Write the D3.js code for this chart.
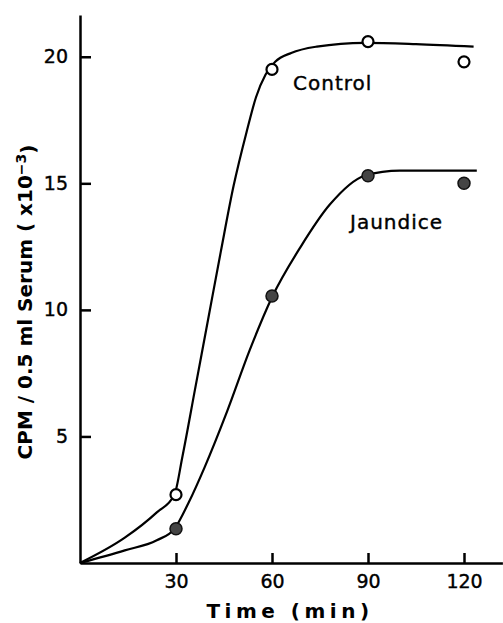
<!DOCTYPE html>
<html lang="en">
<head>
  <meta charset="utf-8"/>
  <script src="https://d3js.org/d3.v7.min.js"></script>
  <style>
    body { margin: 0; background: #fff; }
    .axis path, .axis line { stroke: #000; stroke-width: 2.5px; }
    .axis text { font: 19px "DejaVu Sans", sans-serif; fill: #000; stroke: #000; stroke-width: 0.4px; }
    .curve { fill: none; stroke: #000; stroke-width: 2.2px; }
    .label { font-family: "DejaVu Sans", sans-serif; fill: #000; }
    .series { stroke: #000; stroke-width: 0.4px; }
  </style>
</head>
<body>
  <div id="chart"></div>
  <script>
    // sampled times and measured values (x10^-3 CPM)
    const times = [30, 60, 90, 120];
    const controlValues = [2.7, 19.5, 20.6, 19.8];
    const jaundiceValues = [1.35, 10.55, 15.3, 15.0];

    // hand-drawn fitted curves
    const controlCurveT = [0, 14, 24, 29.5, 32, 36, 40, 44, 48, 52, 55, 58, 61, 66, 74, 89, 105, 123];
    const controlCurveV = [0, 1.0, 2.0, 2.7, 4.2, 6.9, 9.6, 12.3, 14.9, 17.0, 18.4, 19.3, 19.8, 20.15, 20.4, 20.55, 20.5, 20.4];
    const jaundiceCurveT = [0, 14, 24, 29.5, 34, 39, 46, 53, 60, 69, 78, 89, 100, 124];
    const jaundiceCurveV = [0, 0.5, 0.9, 1.35, 2.4, 3.8, 6.0, 8.4, 10.5, 12.5, 14.15, 15.3, 15.5, 15.5];

    const xTicks = [30, 60, 90, 120];
    const yTicks = [5, 10, 15, 20];

    const width = 503, height = 623;
    const svg = d3.select("#chart").append("svg")
      .attr("width", width)
      .attr("height", height);

    const x = d3.scaleLinear().domain([0, 132]).range([80, 502.4]);
    const y = d3.scaleLinear().domain([0, 21.65]).range([563, 15]);

    // axes, ticks pointing inwards
    svg.append("g")
      .attr("class", "axis")
      .attr("transform", "translate(0,563)")
      .call(d3.axisBottom(x).tickValues(xTicks).tickSizeInner(-10).tickSizeOuter(0).tickPadding(12));

    svg.append("g")
      .attr("class", "axis")
      .attr("transform", "translate(80,0)")
      .call(d3.axisLeft(y).tickValues(yTicks).tickSizeInner(-11).tickSizeOuter(0).tickPadding(12));

    // curves
    const line = d3.line()
      .x(d => x(d[0]))
      .y(d => y(d[1]))
      .curve(d3.curveMonotoneX);

    svg.append("path")
      .attr("class", "curve")
      .attr("d", line(controlCurveT.map((t, i) => [t, controlCurveV[i]])));
    svg.append("path")
      .attr("class", "curve")
      .attr("d", line(jaundiceCurveT.map((t, i) => [t, jaundiceCurveV[i]])));

    // points
    svg.append("g").selectAll("circle")
      .data(times.map((t, i) => [t, controlValues[i]]))
      .join("circle")
      .attr("cx", d => x(d[0]))
      .attr("cy", d => y(d[1]))
      .attr("r", 5.5)
      .attr("fill", "#fff")
      .attr("stroke", "#000")
      .attr("stroke-width", 2.2);

    svg.append("g").selectAll("circle")
      .data(times.map((t, i) => [t, jaundiceValues[i]]))
      .join("circle")
      .attr("cx", d => x(d[0]))
      .attr("cy", d => y(d[1]))
      .attr("r", 6)
      .attr("fill", "#444")
      .attr("stroke", "#111")
      .attr("stroke-width", 1.5);

    // series labels
    svg.append("text").attr("class", "label series")
      .attr("x", 293).attr("y", 90)
      .attr("font-size", 20).attr("letter-spacing", 1)
      .text("Control");
    svg.append("text").attr("class", "label series")
      .attr("x", 350).attr("y", 229)
      .attr("font-size", 20).attr("letter-spacing", 1)
      .text("Jaundice");

    // axis titles
    svg.append("text").attr("class", "label")
      .attr("x", 290).attr("y", 618)
      .attr("text-anchor", "middle")
      .attr("font-size", 20).attr("font-weight", "bold")
      .attr("letter-spacing", 4.5)
      .text("Time (min)");

    const yTitle = svg.append("text").attr("class", "label")
      .attr("transform", "translate(32,302) rotate(-90)")
      .attr("text-anchor", "middle")
      .attr("font-size", 20).attr("font-weight", "bold");
    yTitle.append("tspan").text("CPM / 0.5 ml Serum ( x10");
    yTitle.append("tspan").attr("dy", "-0.45em").attr("font-size", 14).text("\u22123");
    yTitle.append("tspan").attr("dy", "0.45em").text(")");
  </script>
</body>
</html>
